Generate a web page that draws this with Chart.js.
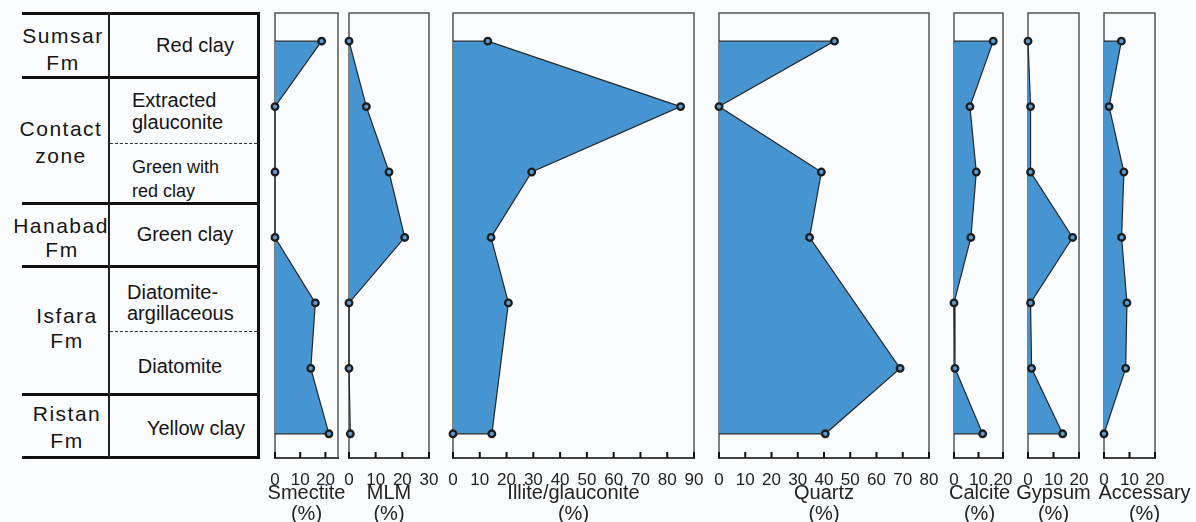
<!DOCTYPE html>
<html><head><meta charset="utf-8">
<script src="https://cdn.jsdelivr.net/npm/chart.js@4.4.0/dist/chart.umd.min.js"></script>
<style>
html,body{margin:0;padding:0;background:#fbfcfe;overflow:hidden;width:1196px;height:522px;}
#wrap{position:relative;width:1196px;height:522px;font-family:'Liberation Sans',Arial,sans-serif;color:#141414;}
.hl{position:absolute;height:3px;background:#111;}
.vl{position:absolute;background:#222;}
.dl{position:absolute;height:0;border-top:1.6px dashed #333;}
.t{position:absolute;white-space:nowrap;transform:translate(-50%,-50%);line-height:1;}
.l{position:absolute;white-space:nowrap;transform:translate(0,-50%);line-height:1;}
.fm{font-size:21px;letter-spacing:1.5px;}
.sm{font-size:20px;}
.xs{font-size:18px;}
canvas{position:absolute;top:0;}
</style>
</head><body>
<div id="wrap">
  <!-- stratigraphic table -->
  <div class="hl" style="left:22px;width:237px;top:12px"></div>
  <div class="hl" style="left:22px;width:237px;top:76px"></div>
  <div class="hl" style="left:22px;width:237px;top:202px"></div>
  <div class="hl" style="left:22px;width:237px;top:265px"></div>
  <div class="hl" style="left:22px;width:237px;top:393px"></div>
  <div class="hl" style="left:22px;width:237px;top:456px"></div>
  <div class="vl" style="left:108px;width:2px;top:12px;height:446px"></div>
  <div class="vl" style="left:257px;width:3px;top:12px;height:447px;background:#111"></div>
  <div class="dl" style="left:110px;width:147px;top:143px"></div>
  <div class="dl" style="left:110px;width:147px;top:331px"></div>

  <div class="t fm" style="left:63px;top:35px">Sumsar</div>
  <div class="t fm" style="left:63px;top:62px">Fm</div>
  <div class="t fm" style="left:61px;top:128px">Contact</div>
  <div class="t fm" style="left:61px;top:155px">zone</div>
  <div class="t fm" style="left:61px;top:225px">Hanabad</div>
  <div class="t fm" style="left:62px;top:249px">Fm</div>
  <div class="t fm" style="left:67px;top:315px">Isfara</div>
  <div class="t fm" style="left:67px;top:340px">Fm</div>
  <div class="t fm" style="left:67px;top:413px">Ristan</div>
  <div class="t fm" style="left:67px;top:440px">Fm</div>

  <div class="t sm" style="left:195px;top:45px">Red clay</div>
  <div class="l sm" style="left:132px;top:100px">Extracted</div>
  <div class="l sm" style="left:132px;top:122px">glauconite</div>
  <div class="l xs" style="left:132px;top:167px">Green with</div>
  <div class="l xs" style="left:132px;top:191px">red clay</div>
  <div class="t sm" style="left:185px;top:234px">Green clay</div>
  <div class="l sm" style="left:127px;top:292px">Diatomite-</div>
  <div class="l sm" style="left:127px;top:313px">argillaceous</div>
  <div class="t sm" style="left:180px;top:366px">Diatomite</div>
  <div class="t sm" style="left:196px;top:428px">Yellow clay</div>
</div>
<script>
// ---- data ----
const samples = ['Red clay','Extracted glauconite','Green with red clay','Green clay','Diatomite-argillaceous','Diatomite','Yellow clay'];
const sampleDepth = [0, 1, 2, 3, 4, 5, 6];
const smectite  = [18.5, 0, 0, 0, 16, 14.2, 21.4];
const mlm       = [0, 6.5, 15, 20.9, 0, 0, 0.5];
const illite    = [13, 85, 29.4, 14.2, 20.7, null, 14.5];
const quartz    = [44, 0, 39, 34.5, null, 69, 40.5];
const calcite   = [16, 6.5, 9.1, 6.9, 0, 0.4, 11.7];
const gypsum    = [0, 1, 1, 17.5, 1, 1.4, 13.6];
const accessary = [6.8, 2, 7.8, 6.9, 9, 8.5, 0];

const ticks20 = [0, 10, 20];
const ticks30 = [0, 10, 20, 30];
const ticks80 = [0, 10, 20, 30, 40, 50, 60, 70, 80];
const ticks90 = [0, 10, 20, 30, 40, 50, 60, 70, 80, 90];

const names = ['Smectite', 'MLM', 'Illite/glauconite', 'Quartz', 'Calcite', 'Gypsum', 'Accessary'];
const unitLabel = '(%)';
const seriesList = [smectite, mlm, illite, quartz, calcite, gypsum, accessary];
const tickList = [ticks20, ticks30, ticks90, ticks80, ticks20, ticks20, ticks20];
const axisMax = [25, 30, 90, 80, 20, 20, 20];

// ---- layout / style ----
const boxes = [[275,338],[349,429],[453,694],[719,929],[954,1003],[1028,1079],[1104,1155]];
const titleShift = [0, 0, 0, 0, 1, 0, 15];
const markBaseEnd = [false, false, true, false, false, false, false];
const M = 60;
const FILL = 'rgb(70,149,208)';
const FONT = "'Liberation Sans', Arial, sans-serif";

const boxPlugin = {
  id: 'box',
  beforeDatasetsDraw(chart) {
    const {ctx, chartArea: a} = chart;
    ctx.save();
    ctx.strokeStyle = '#555';
    ctx.lineWidth = 1.5;
    ctx.strokeRect(a.left, a.top, a.right - a.left, a.bottom - a.top);
    const xs = chart.scales.x;
    ctx.strokeStyle = '#111';
    ctx.lineWidth = 2;
    xs.ticks.forEach(t => {
      const px = xs.getPixelForValue(t.value);
      ctx.beginPath();
      ctx.moveTo(px, a.bottom);
      ctx.lineTo(px, a.bottom - 6);
      ctx.stroke();
    });
    ctx.restore();
  },
  afterDraw(chart, args, opts) {
    const {ctx, chartArea: a} = chart;
    const cx = (a.left + a.right) / 2 + (opts.shift || 0);
    ctx.save();
    ctx.fillStyle = '#222';
    ctx.font = '20px ' + FONT;
    ctx.textAlign = 'center';
    ctx.textBaseline = 'middle';
    ctx.fillText(opts.title, cx, a.bottom + 35);
    ctx.fillText(unitLabel, cx, a.bottom + 56);
    ctx.restore();
  }
};

const wrap = document.getElementById('wrap');
names.forEach((name, i) => {
  const [L, R] = boxes[i];
  const w = R - L + 2 * M;
  const c = document.createElement('canvas');
  c.width = w; c.height = 524;
  c.style.left = (L - M) + 'px';
  c.style.width = w + 'px'; c.style.height = '524px';
  wrap.appendChild(c);

  const vals = seriesList[i];
  const valid = vals.map((v, k) => v === null ? -1 : k).filter(k => k >= 0);
  const first = valid[0], last = valid[valid.length - 1];
  const pts = [{x: 0, y: sampleDepth[first]}];
  const radii = [0];
  valid.forEach(k => { pts.push({x: vals[k], y: sampleDepth[k]}); radii.push(3.3); });
  pts.push({x: 0, y: sampleDepth[last]});
  radii.push(markBaseEnd[i] ? 3.3 : 0);

  new Chart(c, {
    type: 'line',
    data: {datasets: [{
      data: pts,
      fill: 'shape',
      backgroundColor: FILL,
      borderColor: '#262626',
      borderWidth: 1.2,
      tension: 0,
      pointRadius: radii,
      pointBackgroundColor: '#5b9bd0',
      pointBorderColor: '#1c1c1c',
      pointBorderWidth: 2.3,
      clip: false
    }]},
    options: {
      responsive: false,
      animation: false,
      devicePixelRatio: 1,
      indexAxis: 'y',
      layout: {padding: {left: M, right: M, top: 13, bottom: 0}},
      plugins: {legend: {display: false}, tooltip: {enabled: false}, box: {title: name, shift: titleShift[i]}},
      scales: {
        x: {
          type: 'linear', position: 'bottom', min: 0, max: axisMax[i],
          afterFit: s => { s.height = 66; },
          afterBuildTicks: s => { s.ticks = tickList[i].map(v => ({value: v})); },
          grid: {display: false},
          border: {display: true, color: '#111', width: 2},
          ticks: {padding: 4, color: '#222', autoSkip: false, maxRotation: 0,
                  font: {family: FONT, size: 17}},
          title: {display: false}
        },
        y: {type: 'linear', display: false, min: -0.43, max: 6.37, reverse: true}
      }
    },
    plugins: [boxPlugin]
  });
});
</script>
</body></html>
